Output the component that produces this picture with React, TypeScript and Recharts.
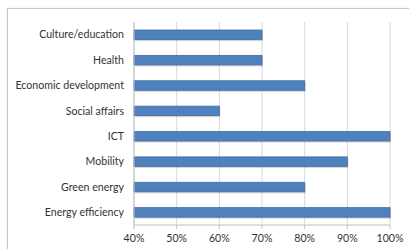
import { Bar, BarChart, CartesianGrid, XAxis, YAxis } from "recharts";

const categories = [
  "Culture/education",
  "Health",
  "Economic development",
  "Social affairs",
  "ICT",
  "Mobility",
  "Green energy",
  "Energy efficiency",
];
const shares = [70, 70, 80, 60, 100, 90, 80, 100];
const xTicks = [40, 50, 60, 70, 80, 90, 100];
const boundaryTicks = [0, 1, 2, 3, 4, 5, 6, 7, 8];

const data = categories.map((name, i) => ({ name, value: shares[i] }));

const font = "Lato, 'Open Sans', sans-serif";

function ShadowBar(props: any) {
  const { x, y, width, height } = props;
  if (width <= 0) return null;
  return (
    <g>
      <rect x={x + 1} y={y + 1.5} width={width} height={height} fill="rgba(0,0,0,0.18)" />
      <rect x={x} y={y} width={width} height={height} fill="#4f81bd" stroke="#3f6ea8" strokeWidth={0.8} />
    </g>
  );
}

function CatTick(props: any) {
  const { x, y, payload } = props;
  return (
    <text x={x} y={y} dy={3.8} textAnchor="end" fill="#333" fontSize={10.6} fontFamily={font}>
      {payload.value}
    </text>
  );
}

export default function App() {
  return (
    <div
      style={{
        position: "absolute",
        left: 7,
        top: 8,
        width: 420,
        height: 260,
        border: "1px solid #c8c8c8",
        boxShadow: "0 0 1px #ddd",
        background: "#fff",
      }}
    >
      <BarChart
        width={402}
        height={241}
        data={data}
        layout="vertical"
        margin={{ top: 13, right: 20, left: 0, bottom: 0 }}
        barSize={9.5}
      >
        <CartesianGrid horizontal={false} stroke="#d9d9d9" />
        <XAxis
          type="number"
          domain={[40, 100]}
          ticks={xTicks}
          tickFormatter={(v) => `${v}%`}
          tick={{ fill: "#333", fontSize: 10.6, fontFamily: font }}
          stroke="#bfbfbf"
          tickSize={4}
          tickMargin={5}
          height={25}
          interval={0}
        />
        <YAxis
          yAxisId="edges"
          type="number"
          domain={[0, 8]}
          ticks={boundaryTicks}
          tick={false}
          axisLine={false}
          tickLine={{ stroke: "#a6a6a6" }}
          tickSize={4}
          width={0}
          reversed
        />
        <YAxis
          yAxisId="cat"
          type="category"
          dataKey="name"
          width={126}
          tick={<CatTick />}
          tickLine={false}
          tickSize={6}
          tickMargin={4}
          stroke="#bfbfbf"
          interval={0}
        />
        <Bar yAxisId="cat" dataKey="value" shape={<ShadowBar />} isAnimationActive={false} />
      </BarChart>
    </div>
  );
}
